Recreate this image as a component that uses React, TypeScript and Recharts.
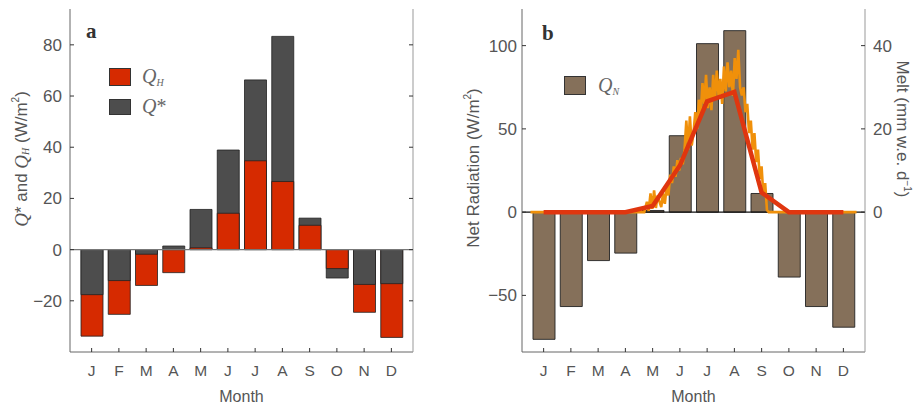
import React from 'react';
import { ComposedChart, Bar, Line, XAxis, YAxis, ReferenceLine, Cell } from 'recharts';

const months = ['J', 'F', 'M', 'A', 'M', 'J', 'J', 'A', 'S', 'O', 'N', 'D'];

// panel a (W/m2)
const qH = [-33.8, -25.3, -14.0, -9.0, 0.7, 14.2, 34.7, 26.6, 9.5, -7.4, -24.5, -34.3];
const qStar = [-17.6, -12.1, -1.8, 1.4, 15.7, 38.9, 66.3, 83.3, 12.3, -11.1, -13.6, -13.3];

// panel b
const qN = [-76.4, -56.7, -29.1, -24.6, 1.0, 45.9, 101.2, 109.0, 11.2, -39.0, -56.7, -69.1];
const meltMonthly = [0, 0, 0, 0, 1.5, 11.2, 26.6, 28.9, 4.7, 0, 0, 0];
const meltDay = [
  1, 128, 131, 133, 135, 137, 139, 141, 143, 145, 147, 149, 151, 153, 155, 157, 159, 161, 163, 165,
  167, 169, 171, 173, 175, 177, 179, 181, 183, 185, 187, 189, 191, 193, 195, 197, 199, 201, 203, 205,
  207, 209, 211, 213, 215, 217, 219, 221, 223, 225, 227, 229, 231, 233, 235, 237, 239, 241, 243, 245,
  247, 249, 251, 253, 255, 257, 259, 261, 263, 265, 267, 365,
];
const meltDaily = [
  0, 0, 2.5, 0.3, 4.5, 0.8, 5.2, 1, 4, 2.5, 1.2, 4.5, 2, 6, 4, 9, 7, 11, 8.5, 12.5,
  10, 13, 11.5, 15, 22, 15, 23, 16, 19, 24, 20, 27, 23, 31, 26, 33, 25, 30, 24.5, 33,
  27, 34, 28, 32, 26, 35, 29, 36, 30, 34, 28, 37, 32, 39, 30, 28, 30, 24, 26, 19,
  22, 15, 19, 12, 15, 8, 11, 4, 7, 0.5, 0, 0,
];

const SANS = '"Liberation Sans", Arial, sans-serif';
const SERIF = '"Liberation Serif", "Times New Roman", serif';
const TXT = '#555';
const RED = '#d62a00';
const GREY = '#4d4d4d';
const BROWN = '#85705a';

const fmt = (v: number) => (v < 0 ? '\u2212' + Math.abs(v) : String(v));

// overlapping bars: larger magnitude behind, smaller in front
const rowsA = months.map((m, i) => {
  const hBig = Math.abs(qH[i]) >= Math.abs(qStar[i]);
  return { month: m, back: hBig ? qH[i] : qStar[i], front: hBig ? qStar[i] : qH[i], backIsH: hBig };
});
const rowsB = months.map((m, i) => ({ month: m, qN: qN[i], melt: meltMonthly[i] }));
const rowsDaily = meltDay.map((d, i) => ({ pos: ((d - 0.5) / 365) * 12 - 0.5, melt: meltDaily[i] }));

const leftTick = (gap: number) => (p: any) => (
  <g>
    <line x1={p.x} x2={p.x + 4} y1={p.y} y2={p.y} stroke="#333" />
    <text x={p.x - gap} y={p.y + 6} textAnchor="end" fontSize={17} fill={TXT} fontFamily={SANS}>
      {fmt(p.payload.value)}
    </text>
  </g>
);
const rightTick = (labels: boolean) => (p: any) => (
  <g>
    <line x1={p.x - 4} x2={p.x} y1={p.y} y2={p.y} stroke="#333" />
    {labels && (
      <text x={p.x + 8} y={p.y + 6} textAnchor="start" fontSize={17} fill={TXT} fontFamily={SANS}>
        {fmt(p.payload.value)}
      </text>
    )}
  </g>
);
const bottomTick = (p: any) => (
  <g>
    <line x1={p.x} x2={p.x} y1={p.y} y2={p.y - 4} stroke="#333" />
    <text x={p.x} y={p.y + 23.5} textAnchor="middle" fontSize={15.5} fill={TXT} fontFamily={SANS}>
      {p.payload.value}
    </text>
  </g>
);
const topTick = (p: any) => <line x1={p.x} x2={p.x} y1={p.y} y2={p.y + 4} stroke="#333" />;

const MonthLabel = (p: any) => {
  const vb = p.viewBox;
  return (
    <text x={vb.x + vb.width / 2} y={vb.y + vb.height - 3.5} textAnchor="middle" fontSize={16} fill={TXT} fontFamily={SANS}>
      Month
    </text>
  );
};

// px/py/rot are own names so the Label's injected props do not override them
const RotLabel = ({ px, py, rot, children }: any) => (
  <text
    x={px}
    y={py}
    transform={`rotate(${rot} ${px} ${py})`}
    textAnchor="middle"
    dominantBaseline="central"
    fontSize={17}
    fill={TXT}
    fontFamily={SANS}
  >
    {children}
  </text>
);

const Sub = ({ t }: { t: string }) => (
  <sub style={{ fontSize: 10, fontStyle: 'italic', fontFamily: SERIF, verticalAlign: '-3px' }}>{t}</sub>
);

const legendText: React.CSSProperties = {
  position: 'absolute',
  fontFamily: SERIF,
  fontStyle: 'italic',
  fontSize: 20,
  color: '#666',
  lineHeight: '22px',
  whiteSpace: 'nowrap',
};

const swatch = (left: number, top: number, w: number, h: number, bg: string): React.CSSProperties => ({
  position: 'absolute',
  left,
  top,
  width: w,
  height: h,
  background: bg,
  border: '1px solid #333',
  boxSizing: 'border-box',
});

const PanelA = () => (
  <ComposedChart width={460} height={405} data={rowsA} margin={{ top: 9, right: 46, bottom: 0, left: 0 }}>
    <XAxis
      dataKey="month"
      xAxisId="b"
      height={53}
      padding={{ left: 8, right: 8 }}
      interval={0}
      tickSize={0}
      tickMargin={0}
      axisLine={{ stroke: '#666' }}
      tick={bottomTick}
      label={<MonthLabel />}
    />
    <XAxis
      dataKey="month"
      xAxisId="t"
      orientation="top"
      height={0}
      padding={{ left: 8, right: 8 }}
      interval={0}
      tickSize={0}
      tickMargin={0}
      axisLine={{ stroke: '#222' }}
      tick={topTick}
    />
    <YAxis
      yAxisId="l"
      type="number"
      width={70}
      domain={[-40, 94]}
      ticks={[-20, 0, 20, 40, 60, 80]}
      allowDataOverflow
      tickSize={0}
      tickMargin={0}
      axisLine={{ stroke: '#666' }}
      tick={leftTick(8)}
      label={
        <RotLabel px={21} py={159} rot={-90}>
          <tspan fontFamily={SERIF} fontStyle="italic" fontSize={19}>Q</tspan>
          <tspan>* and </tspan>
          <tspan fontFamily={SERIF} fontStyle="italic" fontSize={19}>Q</tspan>
          <tspan fontFamily={SERIF} fontStyle="italic" fontSize={10} dy={4}>H</tspan>
          <tspan dy={-4}> (W/m</tspan>
          <tspan fontSize={10} dy={-6}>2</tspan>
          <tspan dy={6}>)</tspan>
        </RotLabel>
      }
    />
    <YAxis
      yAxisId="r"
      orientation="right"
      type="number"
      width={1}
      domain={[-40, 94]}
      ticks={[-20, 0, 20, 40, 60, 80]}
      allowDataOverflow
      tickSize={0}
      tickMargin={0}
      axisLine={{ stroke: '#999' }}
      tick={rightTick(false)}
    />
    <Bar dataKey="back" xAxisId="b" yAxisId="l" barSize={22} stroke="#222" strokeWidth={0.8} isAnimationActive={false}>
      {rowsA.map((r, i) => (
        <Cell key={`b-${i}`} fill={r.backIsH ? RED : GREY} />
      ))}
    </Bar>
    <Bar dataKey="front" xAxisId="t" yAxisId="l" barSize={22} stroke="#222" strokeWidth={0.8} isAnimationActive={false}>
      {rowsA.map((r, i) => (
        <Cell key={`f-${i}`} fill={r.backIsH ? GREY : RED} />
      ))}
    </Bar>
    <ReferenceLine y={0} xAxisId="b" yAxisId="l" stroke="#777" strokeWidth={1.2} />
  </ComposedChart>
);

const PanelB = () => (
  <ComposedChart width={454} height={405} data={rowsB} margin={{ top: 9, right: 0, bottom: 0, left: 0 }}>
    <XAxis
      dataKey="month"
      xAxisId="b"
      height={53}
      padding={{ left: 8, right: 8 }}
      interval={0}
      tickSize={0}
      tickMargin={0}
      axisLine={{ stroke: '#666' }}
      tick={bottomTick}
      label={<MonthLabel />}
    />
    <XAxis
      dataKey="month"
      xAxisId="t"
      orientation="top"
      height={0}
      padding={{ left: 8, right: 8 }}
      interval={0}
      tickSize={0}
      tickMargin={0}
      axisLine={{ stroke: '#222' }}
      tick={topTick}
    />
    <XAxis xAxisId="d" dataKey="pos" type="number" domain={[-0.794, 11.794]} allowDataOverflow hide />
    <YAxis
      yAxisId="l"
      type="number"
      width={62}
      domain={[-84, 122]}
      ticks={[-50, 0, 50, 100]}
      allowDataOverflow
      tickSize={0}
      tickMargin={0}
      axisLine={{ stroke: '#666' }}
      tick={leftTick(5)}
      label={
        <RotLabel px={13} py={168} rot={-90}>
          <tspan>Net Radiation (W/m</tspan>
          <tspan fontSize={10} dy={-6}>2</tspan>
          <tspan dy={6}>)</tspan>
        </RotLabel>
      }
    />
    <YAxis
      yAxisId="r"
      orientation="right"
      type="number"
      width={49}
      domain={[-33.6, 48.8]}
      ticks={[0, 20, 40]}
      allowDataOverflow
      tickSize={0}
      tickMargin={0}
      axisLine={{ stroke: '#999' }}
      tick={rightTick(true)}
      label={
        <RotLabel px={443} py={129} rot={90}>
          <tspan>Melt (mm w.e. d</tspan>
          <tspan fontSize={10} dy={-5}>{'\u22121'}</tspan>
          <tspan dy={5}>)</tspan>
        </RotLabel>
      }
    />
    <Bar dataKey="qN" xAxisId="b" yAxisId="l" barSize={22} fill={BROWN} stroke="#222" strokeWidth={0.9} isAnimationActive={false} />
    <ReferenceLine y={0} xAxisId="b" yAxisId="l" stroke="#111" strokeWidth={1.2} />
    <Line
      data={rowsDaily}
      dataKey="melt"
      xAxisId="d"
      yAxisId="r"
      type="linear"
      stroke="#f0900a"
      strokeWidth={2.6}
      dot={false}
      isAnimationActive={false}
    />
    <Line
      dataKey="melt"
      xAxisId="b"
      yAxisId="r"
      type="linear"
      stroke="#e0360f"
      strokeWidth={4.5}
      dot={false}
      isAnimationActive={false}
    />
  </ComposedChart>
);

export default function App() {
  return (
    <div style={{ position: 'absolute', left: 0, top: 0, width: 914, height: 405, background: '#fff', fontFamily: SANS }}>
      <div style={{ position: 'absolute', left: 0, top: 0 }}>
        <PanelA />
      </div>
      <div style={{ position: 'absolute', left: 460, top: 0 }}>
        <PanelB />
      </div>

      <div style={{ position: 'absolute', left: 86, top: 19, fontFamily: SERIF, fontWeight: 700, fontSize: 21, color: '#333' }}>a</div>
      <div style={{ position: 'absolute', left: 542, top: 21, fontFamily: SERIF, fontWeight: 700, fontSize: 21, color: '#333' }}>b</div>

      <div style={swatch(109, 68, 22, 18, RED)} />
      <div style={{ ...legendText, left: 142, top: 65 }}>
        Q<Sub t="H" />
      </div>
      <div style={swatch(109, 99, 22, 16, GREY)} />
      <div style={{ ...legendText, left: 142, top: 95 }}>
        Q<span style={{ fontStyle: 'normal' }}>*</span>
      </div>

      <div style={swatch(564, 76, 22, 19, BROWN)} />
      <div style={{ ...legendText, left: 598, top: 74 }}>
        Q<Sub t="N" />
      </div>
    </div>
  );
}
